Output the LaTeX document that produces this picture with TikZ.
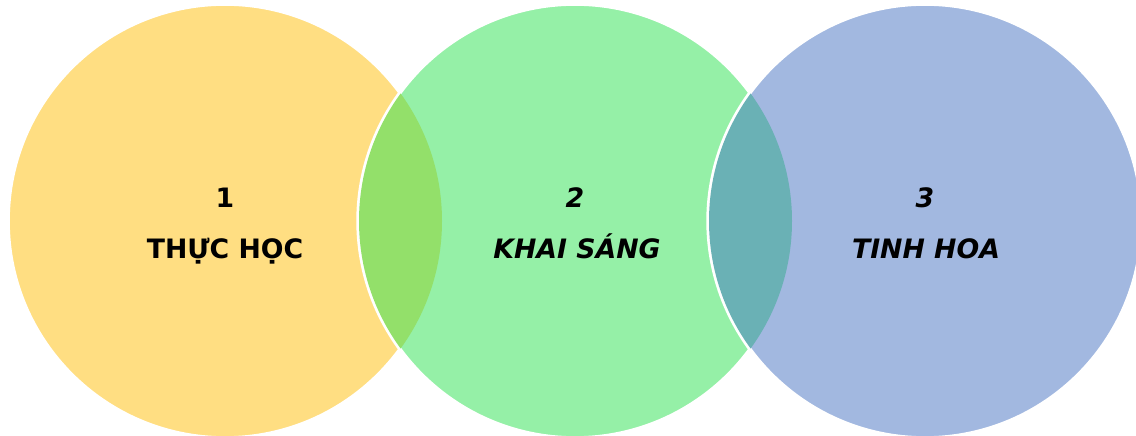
\documentclass[tikz,border=0pt]{standalone}
\usepackage{fontspec}
\setmainfont{DejaVu Sans}
\usepackage{tikz}
\definecolor{vang}{HTML}{FFDE82}
\definecolor{xanhla}{HTML}{95F0A7}
\definecolor{xanhduong}{HTML}{A2B8E0}
\definecolor{giao1}{HTML}{93E06A}
\definecolor{giao2}{HTML}{6AB1B5}

\begin{document}
\begin{tikzpicture}[x=0.02cm,y=0.02cm]
						\tikzstyle{bubble}=[circle,draw=white,line width=2pt,minimum size=8.68cm,inner sep=0pt]
						\tikzstyle{so}=[anchor=base,font=\fontsize{15.2}{18}\selectfont\bfseries]
						\tikzstyle{ten}=[anchor=base,font=\fontsize{15.2}{18}\selectfont\bfseries]
						\useasboundingbox (0,0) rectangle (1136,436);
						\node[bubble,fill=vang](c1) at (225,215) {};
						\node[bubble,fill=xanhla](c2) at (575,215) {};
						\node[bubble,fill=xanhduong](c3) at (925,215) {};
						% vung giao nhau
						\begin{scope}
							\clip (c1.center) circle (217);
							\fill[giao1] (c2.center) circle (216);
						\end{scope}
						\begin{scope}
							\clip (c2.center) circle (217);
							\fill[giao2] (c3.center) circle (216);
						\end{scope}
						\node[so](n1) at (225,228) {1};
						\node[ten](t1) at (225,177) {THỰC HỌC};
						\node[so](n2) at (575,228) {\itshape 2};
						\node[ten](t2) at (577,177) {\itshape KHAI SÁNG};
						\node[so](n3) at (925,228) {\itshape 3};
						\node[ten](t3) at (926,177) {\itshape TINH HOA};
					\end{tikzpicture}
\end{document}
